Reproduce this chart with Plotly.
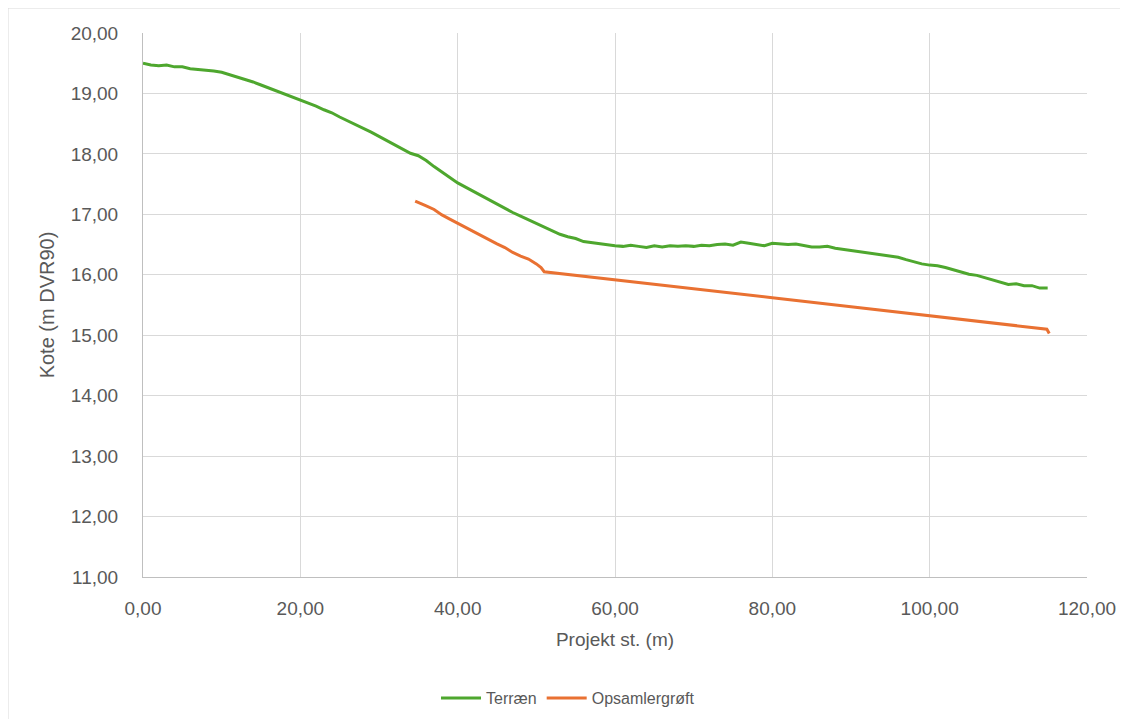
import plotly.graph_objects as go

# Terræn profile
terr_x = list(range(0, 116))
terr_y = [19.50, 19.47, 19.46, 19.47, 19.44, 19.44, 19.41, 19.40, 19.39, 19.37,
          19.35, 19.31, 19.28, 19.24, 19.19, 19.14, 19.09, 19.05, 19.00, 18.95,
          18.90, 18.84, 18.79, 18.73, 18.68, 18.61, 18.55, 18.49, 18.43, 18.36,
          18.29, 18.22, 18.14, 18.07, 18.01, 17.97, 17.89, 17.79, 17.70, 17.60,
          17.52, 17.45, 17.38, 17.30, 17.23, 17.17, 17.10, 17.03, 16.97, 16.91,
          16.86, 16.80, 16.73, 16.67, 16.63, 16.60, 16.55, 16.53, 16.52, 16.49,
          16.48, 16.47, 16.49, 16.47, 16.45, 16.48, 16.46, 16.48, 16.47, 16.48,
          16.47, 16.49, 16.48, 16.50, 16.51, 16.49, 16.54, 16.52, 16.50, 16.48,
          16.52, 16.51, 16.50, 16.51, 16.49, 16.46, 16.46, 16.47, 16.44, 16.42,
          16.40, 16.39, 16.37, 16.35, 16.33, 16.31, 16.29, 16.25, 16.21, 16.18,
          16.16, 16.15, 16.12, 16.08, 16.04, 16.01, 15.99, 15.95, 15.92, 15.87,
          15.84, 15.85, 15.82, 15.82, 15.78, 15.78]

# Opsamlergrøft profile
grft_x = [34.6, 35, 36, 37, 38, 39, 40, 41, 42, 43, 44, 45, 46, 47, 48, 49, 50,
          50.6, 51, 60, 70, 80, 90, 100, 110, 114.9, 115.2]
grft_y = [17.22, 17.20, 17.14, 17.08, 16.99, 16.92, 16.85, 16.79, 16.72, 16.65,
          16.58, 16.51, 16.45, 16.37, 16.31, 16.26, 16.18, 16.12, 16.05, 15.92,
          15.77, 15.62, 15.47, 15.32, 15.17, 15.10, 15.03]

fig = go.Figure()
fig.add_trace(go.Scatter(x=terr_x, y=terr_y, mode="lines", name="Terræn",
                         line=dict(color="#4EA72E", width=3)))
fig.add_trace(go.Scatter(x=grft_x, y=grft_y, mode="lines", name="Opsamlergrøft",
                         line=dict(color="#E97132", width=3)))

font_family = "Liberation Sans, Arial, sans-serif"
W, H = 1120, 711
L, T, R, B = 135, 25, 41, 142
fig.update_layout(
    width=W, height=H,
    margin=dict(l=L, r=R, t=T, b=B),
    paper_bgcolor="white", plot_bgcolor="white",
    separators=",.",
    font=dict(family=font_family, color="#595959"),
    showlegend=True,
    legend=dict(orientation="h", xref="container", yref="container",
                x=0.5, xanchor="center", y=21 / H, yanchor="middle",
                font=dict(size=16, color="#595959"), itemwidth=40),
    xaxis=dict(range=[0, 120], dtick=20, tickformat=".2f",
               showgrid=True, gridcolor="#D9D9D9", gridwidth=1,
               showline=True, linecolor="#BFBFBF", linewidth=1,
               ticks="", zeroline=False, ticklabelstandoff=14,
               tickfont=dict(size=19, color="#595959"),
               title=dict(text="Projekt st. (m)", font=dict(size=19, color="#595959"),
                          standoff=14)),
    yaxis=dict(range=[11, 20], dtick=1, tickformat=".2f",
               showgrid=True, gridcolor="#D9D9D9", gridwidth=1,
               showline=True, linecolor="#BFBFBF", linewidth=1,
               ticks="", zeroline=False, ticklabelstandoff=20,
               tickfont=dict(size=19, color="#595959"),
               title=dict(text="Kote (m DVR90)", font=dict(size=20, color="#595959"),
                          standoff=10)),
)

plot_w = W - L - R
plot_h = H - T - B
fig.add_shape(type="rect", xref="paper", yref="paper",
              x0=-L / plot_w, x1=1.3, y0=-0.6, y1=1 + T / plot_h,
              line=dict(color="#D9D9D9", width=1), fillcolor="rgba(0,0,0,0)",
              layer="below")

fig.write_html("out.html")
